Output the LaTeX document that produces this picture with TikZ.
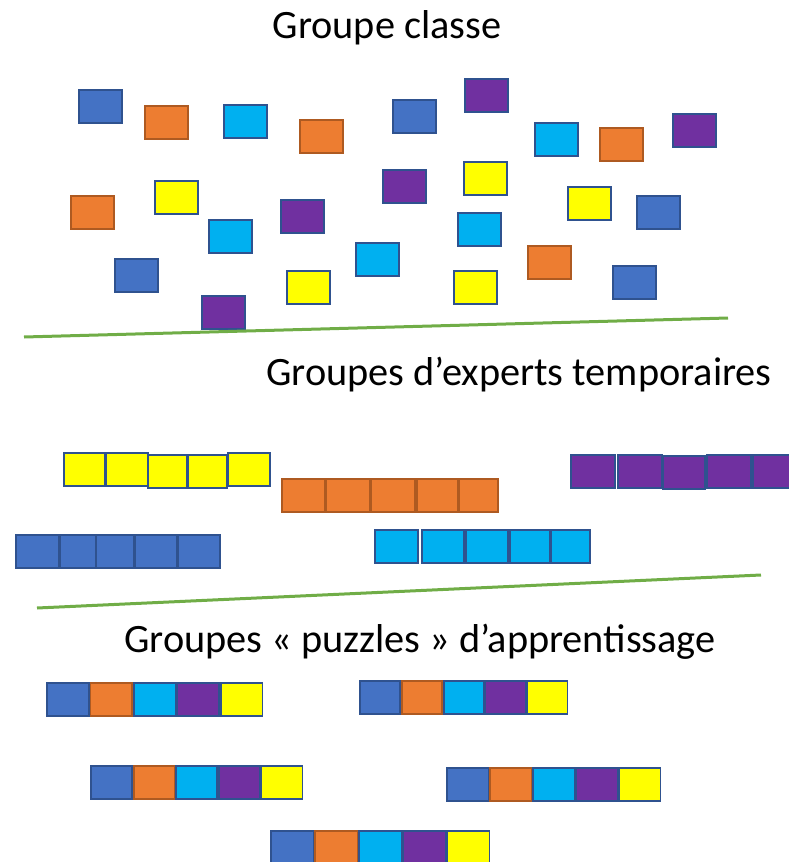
\documentclass[tikz,border=0pt]{standalone}
\usepackage{fontspec}
\setmainfont{Carlito}
\usepackage{xcolor}
\definecolor{bleu}{HTML}{4472C4}
\definecolor{bleufonce}{HTML}{2F528F}
\definecolor{orangeo}{HTML}{ED7D31}
\definecolor{orangefonce}{HTML}{AE5A21}
\definecolor{ciel}{HTML}{00B0F0}
\definecolor{prune}{HTML}{7030A0}
\definecolor{jaune}{HTML}{FFFF00}
\definecolor{herbe}{HTML}{70AD47}
\tikzset{
  carte/.style={line width=1.8pt, draw=bleufonce},
  carteB/.style={carte, fill=bleu},
  carteO/.style={carte, fill=orangeo, draw=orangefonce},
  carteC/.style={carte, fill=ciel},
  carteV/.style={carte, fill=prune},
  carteJ/.style={carte, fill=jaune},
  ligne/.style={draw=herbe, line width=3pt},
  titre/.style={font=\fontsize{40.3}{46}\selectfont, anchor=base, inner sep=0pt}
}

\begin{document}
\begin{tikzpicture}[x=1pt, y=-1pt]
  % Frame
  \useasboundingbox (0, 0) rectangle (789, 862);
  \clip (0, 0) rectangle (789, 862);

  % Groupe classe
  \node[titre] (classe) at(387, 38) {Groupe classe};
  \foreach \s/\x/\y in {carteB/79/90, carteO/145/106, carteC/224/105, carteO/300/120,
      carteB/393/100, carteV/465/79, carteC/535/123, carteO/600/128, carteV/673/114,
      carteO/71/196, carteJ/155/181, carteC/209/220, carteV/281/200, carteV/383/170,
      carteJ/464/162, carteJ/568/187, carteB/637/196, carteC/458/213,
      carteB/115/259, carteV/202/296, carteJ/287/271, carteC/356/243,
      carteJ/454/271, carteO/528/246, carteB/613/266}
    \draw[\s] (\x, \y) rectangle +(43, 33);
  \draw[ligne] (24, 337) -- (728, 318);

  % Groupes d'experts
  \node[titre] (experts) at(519, 385) {Groupes d’experts temporaires};
  \foreach \x/\y/\w in {64/453/41, 106/453/42, 148/455/39, 188/455/39, 228/453/42}
    \draw[carteJ] (\x, \y) rectangle +(\w, 33);
  \foreach \x/\y/\w in {282/479/43, 326/479/44, 371/479/44, 417/479/41, 459/479/39}
    \draw[carteO] (\x, \y) rectangle +(\w, 33);
  \foreach \x/\y/\w in {571/455/44, 618/455/44, 663/456/42, 707/455/44, 753/455/44}
    \draw[carteV] (\x, \y) rectangle +(\w, 33);
  \foreach \x/\y/\w in {16/535/43, 60/535/36, 96/535/38, 135/535/42, 178/535/42}
    \draw[carteB] (\x, \y) rectangle +(\w, 33);
  \foreach \x/\y/\w in {375/530/43, 422/530/42, 466/530/42, 510/530/40, 551/530/39}
    \draw[carteC] (\x, \y) rectangle +(\w, 33);
  \draw[ligne] (37, 608) -- (761, 575);

  % Groupes puzzles
  \node[titre] (puzzles) at(420, 652) {Groupes « puzzles » d’apprentissage};
  \foreach \x/\y/\w in {47/683/43.4, 360/681/41.8, 91/766/42.6, 447/768/43, 271/831/44}
    \foreach \s [count=\i from 0] in {carteB, carteO, carteC, carteV, carteJ}
      \draw[\s] (\x+\i*\w, \y) rectangle +(\w-1.5, 33);
\end{tikzpicture}
\end{document}
